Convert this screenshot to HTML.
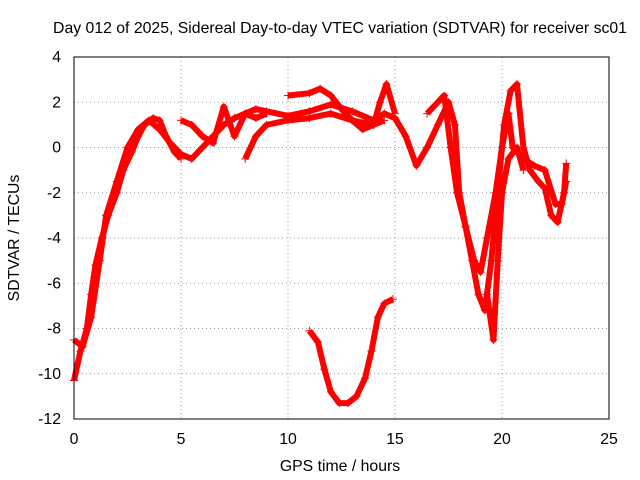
<!DOCTYPE html>
<html><head><meta charset="utf-8"><style>
body{margin:0;background:#fff}
svg{display:block;font-family:"Liberation Sans",sans-serif;font-size:15.8px}
</style></head><body>
<svg id="chart" width="640" height="480">
<text x="340" y="33" text-anchor="middle">Day 012 of 2025, Sidereal Day-to-day VTEC variation (SDTVAR) for receiver sc01</text>
<text x="340" y="471" text-anchor="middle">GPS time / hours</text>
<text transform="translate(19,238) rotate(-90)" text-anchor="middle">SDTVAR / TECUs</text>
<g id="grid"></g><g id="ticks"></g><g id="marks"></g>
<rect x="74" y="57" width="535" height="362" fill="none" stroke="#000"/>
</svg>
<script>
const xTicks=[0,5,10,15,20,25];
const yTicks=[4,2,0,-2,-4,-6,-8,-10,-12];
const trackA=[[0,-10.3],[0.3,-9],[0.6,-8],[0.8,-6.5],[1,-5.2],[1.3,-4],[1.6,-3],[2,-2],[2.3,-1],[2.7,-0.2],[3,0.5],[3.3,1],[3.7,1.3],[4,1.2],[4.3,0.5],[4.7,-0.2],[5,-0.5]];
const trackB=[[0,-8.5],[0.4,-8.8],[0.8,-7.5],[1.2,-5],[1.5,-3],[2,-1.5],[2.5,0],[3,0.8],[3.5,1.2],[4,0.8],[4.5,0.2],[5,-0.3],[5.5,-0.5],[6,0],[6.5,0.5],[7,1],[7.5,1.3],[8,1.5],[8.5,1.7],[9,1.6],[10,1.4],[11,1.6],[12,1.9],[13,1.6],[14,1.2],[14.5,1.5],[15,1.3],[15.5,0.5],[16,-0.8],[16.5,0],[17,1],[17.5,2],[17.8,1],[18,-2],[18.3,-3.5],[18.7,-5],[19,-5.5],[19.3,-4],[19.7,-2],[20,0],[20.3,1.5],[20.5,0],[21,-0.5],[21.5,-0.8],[22,-1],[22.5,-2.5],[22.8,-2.5],[23,-1.5]];
const trackC=[[5,1.2],[5.5,1],[6,0.5],[6.5,0.2],[7,1.8],[7.5,0.5],[8,1.5],[8.5,1.3],[9,1.5]];
const trackD=[[8,-0.5],[8.5,0.5],[9,1],[10,1.2],[11,1.3],[12,1.5],[13,1.2],[14,1],[14.3,2],[14.6,2.8],[15,1.5]];
const trackE=[[10,2.3],[11,2.4],[11.5,2.6],[12,2.3],[12.5,1.7],[13,1.2],[13.5,0.8],[14,1],[14.5,1.2]];
const trackF=[[11,-8.1],[11.4,-8.6],[11.7,-9.8],[12,-10.8],[12.4,-11.3],[12.8,-11.3],[13.2,-11],[13.6,-10.2],[13.9,-9],[14.2,-7.5],[14.5,-6.9],[14.9,-6.7]];
const trackG=[[16.5,1.5],[17,2],[17.3,2.3],[17.6,0],[17.9,-2],[18.3,-3.5],[18.6,-5],[18.9,-6.5],[19.2,-7.2],[19.5,-5],[19.8,-2],[20.1,1],[20.4,2.5],[20.7,2.8],[21,0],[21.3,-1],[21.7,-1.5],[22,-1.8],[22.3,-3],[22.6,-3.3],[22.9,-2],[23,-0.7]];
const trackH=[[19.3,-6.5],[19.6,-8.5],[19.8,-5],[20,-2],[20.3,-0.5],[20.7,0],[21,-1]];
const tracks=[trackA,trackB,trackC,trackD,trackE,trackF,trackG,trackH];
const NS='http://www.w3.org/2000/svg';
const X=v=>74+v*535/25, Y=v=>57+(4-v)*362/16;
function mk(t,a,p){const e=document.createElementNS(NS,t);for(const k in a)e.setAttribute(k,a[k]);p.appendChild(e);return e;}
const grid=document.getElementById('grid'),ticks=document.getElementById('ticks'),marks=document.getElementById('marks');
xTicks.forEach(t=>{
 if(t>0&&t<25){const g=mk('line',{x1:X(t),x2:X(t),y1:57,y2:419,stroke:'#999','stroke-dasharray':'1,3'},grid);
 
 }
 const l=mk('text',{x:X(t),y:444,'text-anchor':'middle'},ticks);l.textContent=t;
 
 
});
yTicks.forEach(t=>{
 if(t<4&&t>-12){const g=mk('line',{x1:74,x2:609,y1:Y(t),y2:Y(t),stroke:'#999','stroke-dasharray':'1,3'},grid);
 
 }
 const l=mk('text',{x:61,y:Y(t)+5,'text-anchor':'end'},ticks);l.textContent=t;
 
 
});
tracks.forEach((tr)=>{
 const pl=mk('polyline',{points:tr.map(p=>X(p[0])+','+Y(p[1])).join(' '),fill:'none',stroke:'#f00','stroke-width':6,'stroke-linejoin':'round'},marks);
 
 
 tr.forEach(p=>{
  const m=mk('path',{d:`M${X(p[0])-4},${Y(p[1])}h8M${X(p[0])},${Y(p[1])-4}v8`,stroke:'#f00','stroke-width':1},marks);
  
  
 });
});
</script>
</body></html>
